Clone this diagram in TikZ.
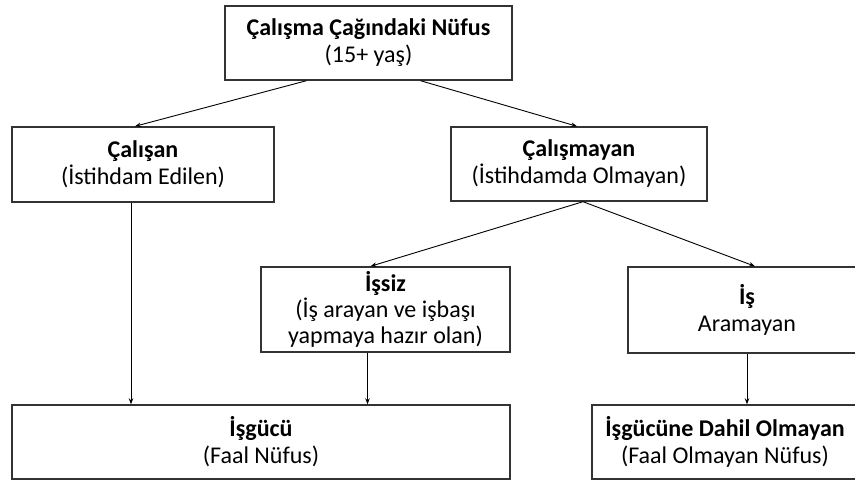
\documentclass[tikz,border=0pt]{standalone}
\usepackage{fontspec}
\setmainfont{Carlito}
\usetikzlibrary{arrows.meta,positioning,calc}

\begin{document}
\begin{tikzpicture}[x=1pt, y=-1pt,
    box/.style={draw=black!80, line width=1.4pt, align=center, inner sep=0pt, font=\fontsize{24}{27}\selectfont},
    >={Stealth[length=6pt, width=4.5pt]},
    link/.style={->, line width=0.9pt, black}]

    \useasboundingbox (0,0) rectangle (855,481);
    \clip (0,0) rectangle (855,481);

    % Boxes
    \node[box, minimum width=287pt, minimum height=74pt] (nufus) at (368.5,43)
        {\textbf{Çalışma Çağındaki Nüfus}\\(15+ yaş)};
    \node[box, minimum width=262pt, minimum height=75pt] (calisan) at (143,164.5)
        {\textbf{Çalışan}\\(İstihdam Edilen)};
    \node[box, minimum width=256pt, minimum height=74pt] (calismayan) at (579,164)
        {\textbf{Çalışmayan}\\(İstihdamda Olmayan)};
    \node[box, minimum width=249pt, minimum height=85pt, font=\fontsize{24}{26}\selectfont] (issiz) at (385.5,309.5)
        {\textbf{İşsiz}\\(İş arayan ve işbaşı\\yapmaya hazır olan)};
    \node[box, minimum width=238pt, minimum height=86pt] (aramayan) at (747,310)
        {\textbf{İş}\\Aramayan};
    \node[box, minimum width=498pt, minimum height=74pt] (isgucu) at (261,442)
        {\textbf{İşgücü}\\(Faal Nüfus)};
    \node[box, minimum width=266pt, minimum height=74pt] (dahil) at (725,442)
        {\textbf{İşgücüne Dahil Olmayan}\\(Faal Olmayan Nüfus)};

    % Connectors
    \draw[link] ([xshift=-62pt]nufus.south) -- ([xshift=-8pt]calisan.north);
    \draw[link] ([xshift=52pt]nufus.south) -- ([xshift=-2pt]calismayan.north);
    \draw[link] ([xshift=4pt]calismayan.south) -- ([xshift=-15pt]issiz.north);
    \draw[link] ([xshift=4pt]calismayan.south) -- ([xshift=8pt]aramayan.north);
    % Down to the bottom row
    \draw[link] ([xshift=-12pt]calisan.south) -- ([xshift=-12pt]calisan.south |- isgucu.north);
    \draw[link] ([xshift=-18pt]issiz.south) -- ([xshift=-18pt]issiz.south |- isgucu.north);
    \draw[link] (aramayan.south) -- (aramayan.south |- dahil.north);

\end{tikzpicture}
\end{document}
